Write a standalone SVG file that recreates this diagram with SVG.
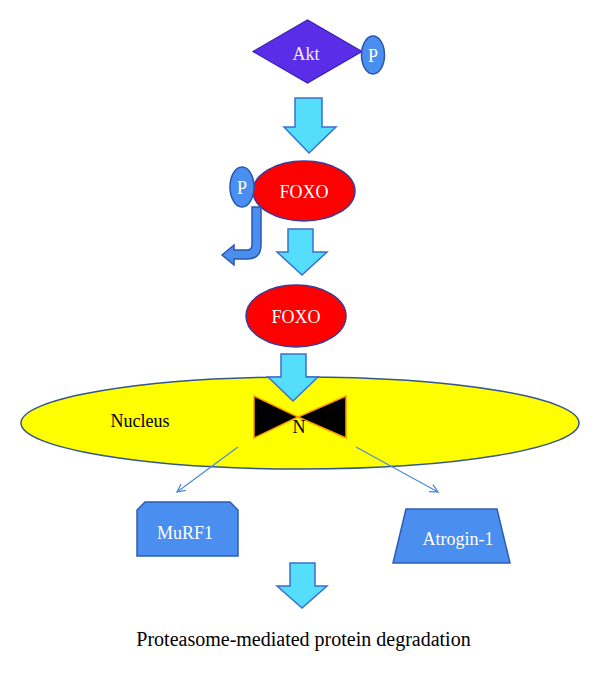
<svg xmlns="http://www.w3.org/2000/svg" width="600" height="674" viewBox="0 0 600 674">
<defs>
<style>
.lbl{font-family:"Liberation Serif","Times New Roman",serif;font-size:18px;text-anchor:middle}
.wt{fill:#ffffff}
.bk{fill:#000000}
.arrow{fill:#55ddfc;stroke:#3a6fd0;stroke-width:1.5}
.p{fill:#4a8ef0;stroke:#2a56b0;stroke-width:1.5}
.foxo{fill:#ff0000;stroke:#3b3b9a;stroke-width:1.5}
.prot{fill:#4a8ef0;stroke:#2f5eb0;stroke-width:1.5}
.thin{stroke:#4a8ad8;stroke-width:1.2;fill:none;marker-end:url(#open)}
</style>
<marker id="open" viewBox="0 0 10 10" refX="9" refY="5" markerWidth="10" markerHeight="10" markerUnits="userSpaceOnUse" orient="auto">
<path d="M1,1 L9,5 L1,9" fill="none" stroke="#4a8ad8" stroke-width="1.3"/>
</marker>
</defs>
<rect width="600" height="674" fill="#ffffff"/>

<g id="nucleus">
<ellipse cx="300" cy="423" rx="279" ry="46" fill="#ffff00" stroke="#34568a" stroke-width="1.5"/>
<text class="lbl bk" x="140" y="427">Nucleus</text>
</g>

<g id="akt">
<polygon points="253,51.5 307.5,20 362,51.5 307.5,83" fill="#5a2ee8" stroke="#3a20b0" stroke-width="1.2"/>
<text class="lbl" x="306" y="60" fill="#f2ecff">Akt</text>
</g>
<g id="p-akt">
<ellipse class="p" cx="373" cy="55" rx="11.5" ry="19"/>
<text class="lbl wt" x="373" y="62">P</text>
</g>

<g id="foxo-p">
<ellipse class="foxo" cx="304" cy="191" rx="51" ry="30"/>
<text class="lbl wt" x="304" y="198">FOXO</text>
</g>
<g id="p-foxo">
<ellipse class="p" cx="242" cy="187" rx="12" ry="20"/>
<text class="lbl wt" x="242" y="194">P</text>
</g>

<g id="foxo">
<ellipse class="foxo" cx="296" cy="316" rx="50" ry="31"/>
<text class="lbl wt" x="296" y="323">FOXO</text>
</g>

<g id="n-complex">
<polygon points="254,396 298,417 254,438" fill="#000000" stroke="#ff9a00" stroke-width="1.5"/>
<polygon points="346,396 298,417 346,438" fill="#000000" stroke="#ff9a00" stroke-width="1.5"/>
<text class="lbl bk" x="299" y="433">N</text>
</g>

<g id="murf1">
<polygon class="prot" points="145,502 230,502 238,510 238,556 137,556 137,510"/>
<text class="lbl wt" x="185" y="539">MuRF1</text>
</g>

<g id="atrogin1">
<polygon class="prot" points="406,509 497,509 510,563 393,563"/>
<text class="lbl wt" x="458" y="545">Atrogin-1</text>
</g>

<g id="degradation">
<text class="lbl bk" x="303.5" y="646" style="font-size:20px">Proteasome-mediated protein degradation</text>
</g>

<g id="connectors">
<polygon class="arrow" points="295,98 322,98 322,127 336,127 309,153 284,127 295,127"/>
<polygon class="arrow" points="288,229 313,229 313,252 327,252 302,275 277,252 288,252"/>
<polygon class="arrow" points="281,354 306,354 306,377 318,377 293,401 268,377 281,377"/>
<polygon class="arrow" points="290,563 315,563 315,586 327,586 302,608 277,586 290,586"/>
<path class="p" d="M252,207 L261,207 L261,245 Q261,259 247,259 L234,259 L234,265 L222,255 L234,245 L234,250 L247,250 Q252,250 252,245 Z"/>
<line class="thin" x1="238" y1="447" x2="177" y2="492"/>
<line class="thin" x1="356" y1="447" x2="438" y2="492"/>
</g>
</svg>
